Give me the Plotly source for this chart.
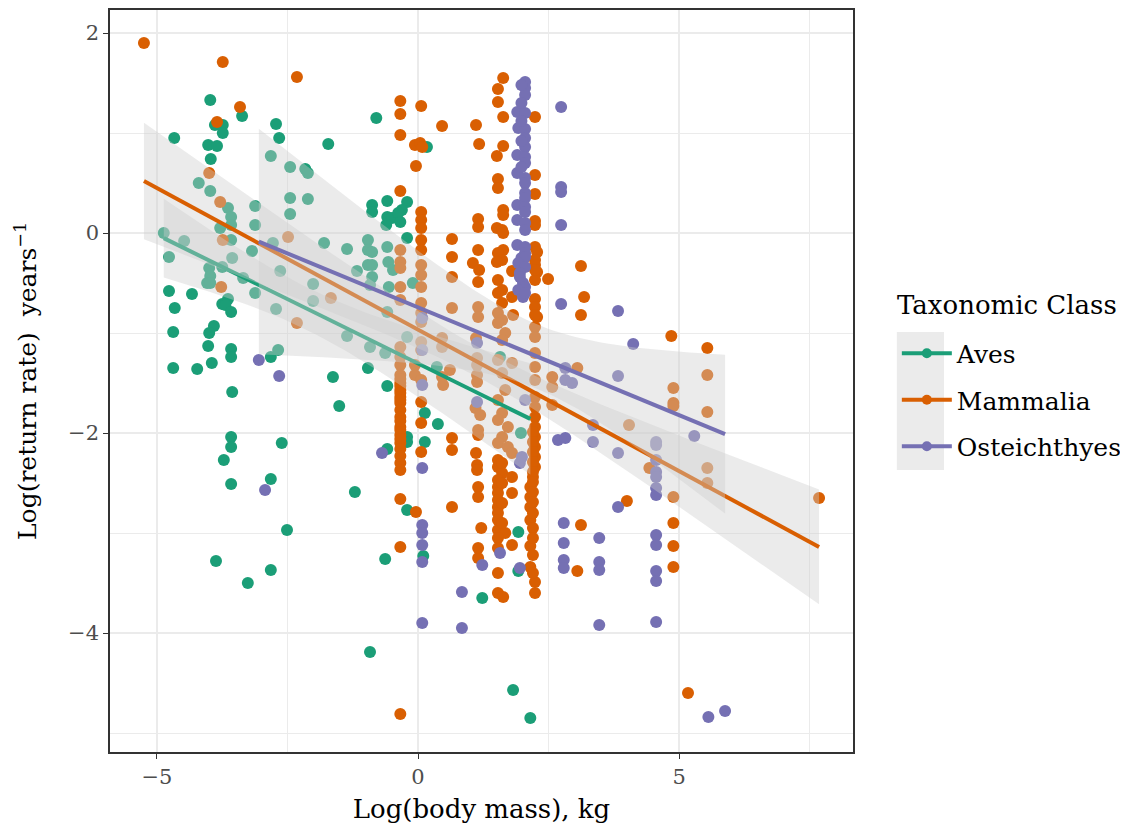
import numpy as np
import plotly.graph_objects as go

classes = ["Aves", "Mammalia", "Osteichthyes"]
colors = ["#1B9E77", "#D95F02", "#7570B3"]

aves_x = [-3.98, -3.89, -3.74, -3.74, -3.37, -4.67, -4.02, -3.85, -3.97, -2.72, -2.66, -1.72, -2.82, -2.45,
          -2.16, -2.11, -4.20, -3.98, -3.64, -3.58, -3.58, -3.12, -3.12, -2.45, -2.11, -2.45, -3.79, -4.87,
          -4.48, -3.58, -4.77, -3.56, -3.18, -2.78, -1.80, -1.36, -0.96, -0.96,
          -0.80, 0.17, -0.88, -0.88, -0.59, -0.21, -0.31, -0.59, -0.50, -0.38, -0.34, -0.61, -0.21, -0.59,
          -4.00, -3.98, -4.04, -3.98, -3.75, -3.64, -3.35, -3.12, -2.64, -2.72, -2.01, -2.01, -1.36, -1.17,
          -0.96, -0.92, -4.77, -4.66, -4.33, -4.69, -3.75, -3.69, -3.58, -3.91, -4.00, -4.02, -3.95, -3.58,
          -3.58, -4.69, -4.23, -2.82, -2.68, -3.56, -1.63, -1.51, -3.58, -3.58, -2.61, -3.72, -3.58, -2.82,
          -1.21, -0.96, -2.51, -3.87, -3.26, -2.82, -0.92,
          -0.88, -0.88, -0.88, -0.57, -0.48, -0.56, -0.59, -0.21, -0.92, -0.63, -0.59, 0.36, 1.57, 0.13,
          0.38, -0.21, -0.21, 0.13, -0.59, 1.97, -0.10,
          -0.21, -0.63, 0.10, 1.23, 1.92, 1.92, 1.82, 2.15]
aves_y = [1.33, 1.08, 1.08, 1.00, 1.17, 0.95, 0.88, 0.87, 0.74, 1.09, 0.95, 0.89, 0.77, 0.66,
          0.64, 0.60, 0.50, 0.42, 0.25, 0.16, 0.08, 0.27, 0.08, 0.35, 0.34, 0.19, 0.05, 0.00,
          -0.08, -0.07, -0.24, -0.25, -0.18, -0.10, -0.10, -0.16, -0.07, -0.17,
          1.15, 0.86, 0.28, 0.21, 0.32, 0.31, 0.23, 0.16, 0.15, 0.20, 0.11, 0.08, -0.05, -0.14,
          -0.35, -0.43, -0.50, -0.50, -0.34, -0.66, -0.45, -0.60, -0.38, -0.76, -0.51, -0.68, -1.03, -0.38,
          -0.32, -0.52, -0.58, -0.75, -0.61, -0.99, -0.71, -0.72, -0.79, -0.93, -1.00, -1.13, -1.30, -1.16,
          -1.24, -1.35, -1.36, -1.24, -1.17, -1.59, -1.44, -1.73, -2.04, -2.14, -2.10, -2.27, -2.51, -2.46,
          -2.59, -1.35, -2.97, -3.28, -3.50, -3.37, -4.19,
          -0.19, -0.32, -0.44, -0.29, -0.37, -0.54, -0.79, -1.04, -1.14, -1.20, -1.53, -1.34, -1.24, -1.80,
          -1.91, -2.04, -2.09, -2.09, -2.16, -2.00, -0.50,
          -2.77, -3.26, -3.23, -3.65, -2.99, -3.38, -4.57, -4.85]

mamm_x = [-5.25, -3.74, -2.32, -3.41, -3.85, -4.00, -3.79, -3.74, -2.49, -3.77, -1.67, -2.32,
          -0.34, -0.34, 0.06, -0.34, 0.46, -0.06, 0.04, 0.08, -0.04, -0.34, 0.06, 0.06, 0.06, 0.06, 0.06,
          -0.34, 0.65, 0.65,
          -0.34, -0.34, -0.34, -0.34, -0.34, -0.34, -0.34, -0.34, -0.34, -0.34, -0.34, -0.34, -0.34, -0.34,
          -0.34, -0.34, -0.34, -0.34, -0.34, -0.34,
          -0.34, -0.34, -0.34, -0.34, -0.34,
          -0.34, -0.34, -0.34, -0.34, -0.34, -0.34,
          0.06, 0.06, 0.06, 0.06, 0.06, 0.06, 0.06, 0.06, -0.06, -0.06, 0.06, 0.06, 0.06, 0.06, -0.04,
          0.65, 0.65, 0.46, 0.46, 0.61, 0.46, 0.48, 0.65, 0.65, 0.65,
          1.11, 1.17, 1.15, 1.15, 1.15, 1.05, 1.17, 1.15, 1.15, 1.15, 1.11, 1.13, 1.13, 1.13, 1.13, 1.10,
          1.19, 1.15, 1.15, 1.11, 1.13, 1.13, 1.15, 1.15, 1.21, 1.15, 1.15,
          1.63, 1.53, 1.53, 1.63, 1.63, 1.51, 1.53, 1.53, 1.63, 1.63, 1.51, 1.61, 1.63, 1.63,
          1.53, 1.61, 1.51, 1.80, 1.53, 1.61, 1.53, 1.61, 1.80, 1.82, 1.53, 1.61,
          1.53, 1.67, 1.61, 1.53, 1.61, 1.80, 1.67, 1.53, 1.61, 1.53, 1.72, 1.61, 1.53, 1.72, 1.80,
          1.53, 1.53, 1.61, 1.53, 1.80, 1.53, 1.53, 1.80, 1.53, 1.53, 1.53, 1.53, 1.53, 1.67, 1.53, 1.53,
          1.80, 1.53, 1.53, 1.63,
          1.61, 1.61, 1.61, 1.61,
          2.24, 2.24, 2.24, 2.24, 2.24, 2.24, 2.28, 2.24, 2.28, 2.24, 2.49, 2.24, 2.24, 2.28, 2.24,
          2.24, 2.24, 2.24, 2.24, 2.24, 2.24, 2.24, 2.24, 2.24,
          2.24, 2.24, 2.24, 2.24, 2.24, 2.24, 2.20, 2.15, 2.15, 2.15, 2.15, 2.15, 2.15, 2.24, 2.24,
          2.20, 2.20, 2.20, 2.20, 2.20, 2.20, 2.20, 2.20, 2.20, 2.20, 2.20, 2.20, 2.20,
          3.12, 3.18, 3.12, 4.85, 5.54, 3.05, 2.57, 2.57, 2.57, 5.54, 4.89, 4.89, 4.89, 5.54, 4.04,
          4.43, 5.54, 5.54, 4.00, 4.89, 7.68, 3.12, 3.05, 4.89, 4.89, 4.89, 5.17]
mamm_y = [1.90, 1.71, 1.56, 1.26, 1.11, 0.60, 0.31, -0.07, -0.04, -0.54, -0.65, -0.90,
          1.32, 1.19, 1.27, 0.98, 1.07, 0.88, 0.90, 0.86, 0.67, 0.42, 0.21, 0.13, 0.05, -0.07, -0.17,
          -0.17, -0.06, -0.24,
          -0.29, -0.35, -0.54, -0.67, -1.14, -1.24, -1.32, -1.42, -1.50, -1.57, -1.64, -1.70, -1.94, -2.02,
          -2.10, -2.30, -2.37, -2.66, -3.14, -4.81,
          -1.53, -1.60, -1.67, -1.97, -2.06,
          -1.77, -1.84, -1.88, -2.16, -2.23, -1.46,
          -0.32, -0.42, -0.54, -0.70, -0.80, -0.89, -1.09, -1.17, -1.32, -1.42, -1.47, -1.69, -1.90, -2.19, -2.79,
          -0.44, -0.75, -1.05, -1.14, -1.37, -1.44, -1.52, -2.05, -2.17, -2.74,
          1.08, 0.89, 0.14, 0.06, -0.17, -0.30, -0.37, -0.49, -0.74, -0.84, -1.05, -1.25, -1.32, -1.42, -1.49, -1.75,
          -1.82, -1.97, -2.02, -2.20, -2.32, -2.37, -2.54, -2.64, -2.95, -3.25, -3.15,
          1.55, 1.44, 1.31, 1.16, 0.87, 0.77, 0.54, 0.45, 0.23, 0.18, 0.05, 0.03, 0.00, -0.17,
          -0.20, -0.27, -0.29, -0.38, -0.47, -0.57, -0.60, -0.70, -0.64, -0.82, -0.80, -0.87,
          -0.90, -1.00, -1.07, -1.27, -1.40, -1.30, -1.57, -1.67, -1.80, -1.87, -1.94, -2.04, -2.10, -2.14, -2.20,
          -2.27, -2.34, -2.40, -2.47, -2.44, -2.54, -2.60, -2.60, -2.67, -2.74, -2.80, -2.87, -2.97, -3.00, -3.05, -3.15,
          -3.12, -3.40, -3.60, -3.64,
          -2.30, -2.50, -2.70, -2.90,
          1.16, 0.58, 0.39, 0.12, 0.08, -0.14, -0.19, -0.27, -0.39, -0.47, -0.46, -0.66, -0.74, -0.84, -0.32,
          -0.37, -0.82, -0.94, -1.04, -1.20, -1.34, -1.47, -1.64, -1.74,
          -1.84, -1.94, -2.04, -2.14, -2.24, -2.34, -2.44, -2.54, -2.64, -2.74, -2.87, -3.13, -3.34, -3.49, -3.60,
          -1.99, -2.09, -2.19, -2.29, -2.39, -2.49, -2.59, -2.69, -2.80, -2.95, -3.05, -3.22, -3.40,
          -0.33, -0.64, -0.82, -1.03, -1.15, -1.35, -1.44, -1.54, -1.72, -1.42, -1.55, -1.70, -1.73, -1.79, -1.92,
          -2.35, -2.35, -2.50, -2.68, -2.64, -2.65, -2.92, -3.38, -2.90, -3.13, -3.34, -4.60]

oste_x = [2.05, 2.05, 2.05, 1.90, 2.05, 1.92, 2.05, 2.05, 2.05, 1.90, 2.05, 2.05, 1.90, 2.05, 2.05,
          2.05, 2.05, 1.90, 2.05, 2.05, 1.90, 2.05, 2.05, 1.90, 2.05, 2.05, 1.98, 2.05, 1.92, 2.05,
          1.95, 1.95, 2.01, 2.05, 1.92, 2.01, 2.05,
          1.98, 1.98, 1.98, 1.98, 1.98,
          2.74, 2.74, 2.74, 2.74, 2.74,
          0.08, 1.13, 0.08, 0.08, 1.13, 2.05, 2.68, 2.82, -0.69, 0.08, 1.95, 1.99,
          2.79, 2.79, 2.79, 2.79, 1.57, 1.23, 1.95, 0.84, 0.08, 0.08, 0.08, 0.08, 0.08, 0.84,
          3.83, 4.12, 2.82, 2.82, 2.95, 3.83, 3.35, 5.29, 3.35, 3.83, 4.56, 4.56, 4.56, 4.56, 4.56,
          4.56, 4.56, 3.83, 3.47, 3.47, 3.47, 3.47, 4.56, 4.56, 4.56, 4.56, 4.56, 5.56, 5.88,
          -3.05, -2.66, -2.93]
oste_y = [1.51, 1.45, 1.38, 1.21, 1.20, 1.05, 1.04, 0.95, 0.86, 0.78, 0.76, 0.70, 0.60, 0.55, 0.50,
          0.40, 0.35, 0.28, 0.26, 0.21, 0.13, 0.10, 0.03, -0.12, -0.14, -0.20, -0.25, -0.24, -0.30, -0.34,
          -0.40, -0.44, -0.50, -0.54, -0.57, -0.64, -0.60,
          1.48, 1.30, 1.12, 0.92, 0.66,
          1.26, 0.46, 0.41, 0.08, -0.71,
          -0.85, -1.10, -1.17, -1.52, -1.69, -1.67, -2.07, -2.05, -2.20, -2.35, -2.30, -2.24,
          -2.90, -3.10, -3.27, -3.35, -3.20, -3.32, -3.35, -3.59, -2.92, -3.00, -3.12, -3.29, -3.90, -3.95,
          -0.78, -1.11, -1.35, -1.47, -1.50, -1.43, -1.92, -2.03, -2.09, -2.20, -2.09, -2.12, -2.27, -2.39, -2.44,
          -2.55, -2.62, -2.74, -3.05, -3.29, -3.37, -3.92, -3.02, -3.12, -3.38, -3.48, -3.89, -4.84, -4.78,
          -1.27, -1.43, -2.57]

xs = [aves_x, mamm_x, oste_x]
ys = [aves_y, mamm_y, oste_y]

FONT = "DejaVu Serif"


def tq975(df):
    z = 1.959964
    return z + (z**3 + z) / (4 * df) + (5 * z**5 + 16 * z**3 + 3 * z) / (96 * df**2)


fig = go.Figure()

for name, col, x, y in zip(classes, colors, xs, ys):
    fig.add_trace(go.Scatter(x=x, y=y, mode="markers", name=name, showlegend=False,
                             marker=dict(color=col, size=12, line=dict(width=0)),
                             hoverinfo="x+y"))

for name, col, x, y in zip(classes, colors, xs, ys):
    x = np.asarray(x, float)
    y = np.asarray(y, float)
    n = len(x)
    b, a = np.polyfit(x, y, 1)
    resid = y - (a + b * x)
    s = np.sqrt(np.sum(resid**2) / (n - 2))
    xm = x.mean()
    sxx = np.sum((x - xm) ** 2)
    grid = np.linspace(x.min(), x.max(), 80)
    fit = a + b * grid
    se = s * np.sqrt(1.0 / n + (grid - xm) ** 2 / sxx)
    t = tq975(n - 2)
    lo = fit - t * se
    hi = fit + t * se
    fig.add_trace(go.Scatter(x=np.concatenate([grid, grid[::-1]]),
                             y=np.concatenate([hi, lo[::-1]]),
                             fill="toself", fillcolor="rgba(204,204,204,0.4)",
                             line=dict(width=0), mode="lines", showlegend=False,
                             hoverinfo="skip"))
    fig.add_trace(go.Scatter(x=grid, y=fit, mode="lines", line=dict(color=col, width=4),
                             showlegend=False, hoverinfo="skip"))

for name, col in zip(classes, colors):
    fig.add_trace(go.Scatter(x=[None], y=[None], mode="lines+markers", name=name,
                             line=dict(color=col, width=4),
                             marker=dict(color=col, size=10), legendgroup=name))

grid_col = "#EBEBEB"
axis_common = dict(showline=True, mirror=True, linecolor="#333333", linewidth=1.5,
                   ticks="outside", ticklen=5, tickcolor="#333333", tickwidth=1.2,
                   gridcolor=grid_col, gridwidth=1.8, zeroline=False, automargin=False,
                   tickfont=dict(family=FONT, size=21, color="#4D4D4D"))

fig.update_xaxes(range=[-5.9, 8.33], tickvals=[-5, 0, 5],
                 minor=dict(dtick=2.5, tick0=0, showgrid=True, gridcolor=grid_col, gridwidth=1, ticks=""),
                 title=dict(text="Log(body mass), kg", font=dict(family=FONT, size=26, color="black"),
                            standoff=12),
                 **axis_common)
fig.update_yaxes(range=[-5.19, 2.23], tickvals=[-4, -2, 0, 2],
                 minor=dict(dtick=1, tick0=0, showgrid=True, gridcolor=grid_col, gridwidth=1, ticks=""),
                 title=dict(text="Log(return rate)  years<sup>−1</sup>",
                            font=dict(family=FONT, size=25, color="black"), standoff=24),
                 **axis_common)

fig.add_shape(type="rect", xref="paper", yref="paper", x0=1.059, x1=1.1225, y0=0.380, y1=0.566,
              fillcolor="#EBEBEB", line=dict(width=0), layer="below")

fig.add_annotation(text="Taxonomic Class", xref="paper", yref="paper", x=1.057, y=0.602,
                   xanchor="left", yanchor="middle", showarrow=False,
                   font=dict(family=FONT, size=26, color="black"))

fig.update_layout(
    width=1128, height=831,
    margin=dict(l=102, r=283, t=2, b=87),
    paper_bgcolor="white", plot_bgcolor="white",
    font=dict(family=FONT, color="black"),
    legend=dict(font=dict(family=FONT, size=25), x=1.059, xanchor="left", y=0.568, yanchor="top",
                tracegroupgap=11, bgcolor="rgba(0,0,0,0)", itemwidth=50),
)

fig.write_html("out.html")
